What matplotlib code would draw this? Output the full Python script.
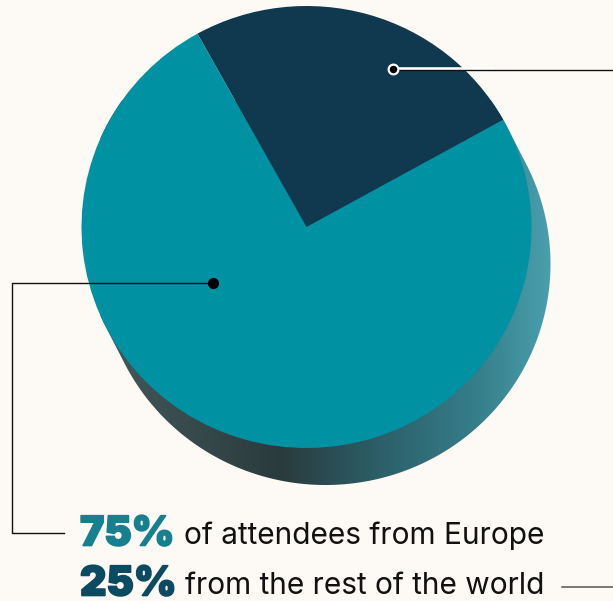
import matplotlib
matplotlib.use('Agg')
import matplotlib.pyplot as plt
import matplotlib.patheffects as pe
import numpy as np
from matplotlib.colors import LinearSegmentedColormap
from matplotlib.patches import Polygon

shares = [25, 75]
share_colors = ['#10384f', '#0091a3']
big_labels = ['75%', '25%']
big_colors = ['#17808e', '#0b4a60']
small_labels = ['of attendees from Europe', 'from the rest of the world']

W, H = 613, 601
BG = '#fdf9f5'

fig = plt.figure(figsize=(W / 100, H / 100), dpi=100, facecolor=BG)

# page axes works in pixels of the picture
page = fig.add_axes([0, 0, 1, 1])
page.set_xlim(0, W)
page.set_ylim(H, 0)
page.axis('off')

cx, cy = 306.5, 227
rx, ry = 225, 221
dx, dy = 19, 37

# side of the disc: top ellipse swept along the offset
t = np.linspace(0, 2 * np.pi, 720, endpoint=False)
facing = (np.cos(t) / rx) * dx + (np.sin(t) / ry) * dy > 0
side_x = cx + rx * np.cos(t) + dx * facing
side_y = cy + ry * np.sin(t) + dy * facing
side = Polygon(np.column_stack([side_x, side_y]), closed=True, fc='none', ec='none')
page.add_patch(side)

side_cmap = LinearSegmentedColormap.from_list('side', [
    (0.0, '#44585b'), (0.40, '#2a3b3d'), (0.62, '#2c5f69'),
    (0.84, '#367f8b'), (1.0, '#4aa0ae')])
grad = np.linspace(0, 1, 512).reshape(1, -1)
img = page.imshow(grad, cmap=side_cmap, extent=[100, 552, 490, 100], aspect='auto', zorder=1)
img.set_clip_path(side)
page.set_xlim(0, W)
page.set_ylim(H, 0)

# pie goes in its own axes, radius 1 is stretched to rx / ry
pie_ax = fig.add_axes([0, 0, 1, 1], zorder=2)
pie_ax.patch.set_alpha(0)
pie_ax.pie(shares, colors=share_colors, startangle=29, counterclock=True, radius=1,
           wedgeprops={'linewidth': 0})
pie_ax.set_aspect('auto')
pie_ax.set_xlim(-cx / rx, (W - cx) / rx)
pie_ax.set_ylim((cy - H) / ry, cy / ry)
pie_ax.axis('off')

# leader lines on top
over = fig.add_axes([0, 0, 1, 1], zorder=3)
over.patch.set_alpha(0)
over.set_xlim(0, W)
over.set_ylim(H, 0)
over.axis('off')

over.plot([393, 493], [69, 69], color='white', lw=2.6)
over.plot([393, W], [69.7, 69.7], color='#111111', lw=1.0)
over.plot([393], [69], 'o', ms=7, mfc='black', mec='white', mew=1.6)
over.plot([213, 12, 12, 64], [283, 283, 533, 533], color='#111111', lw=1.0)
over.plot([213], [283], 'o', ms=7, color='black')
over.plot([562, W], [587, 587], color='#555555', lw=1.1)

# captions
for y, big, col, small in zip([545.5, 595.5], big_labels, big_colors, small_labels):
    over.text(80, y, big, family='Inter', weight='black', fontsize=29.5, color=col, va='baseline',
              path_effects=[pe.withStroke(linewidth=1.2, foreground=col)])
    over.text(544, y - 1, small, family='Inter', fontsize=21.5, color='#111111', va='baseline', ha='right')

fig.savefig('out.png', dpi=100, facecolor=BG)
